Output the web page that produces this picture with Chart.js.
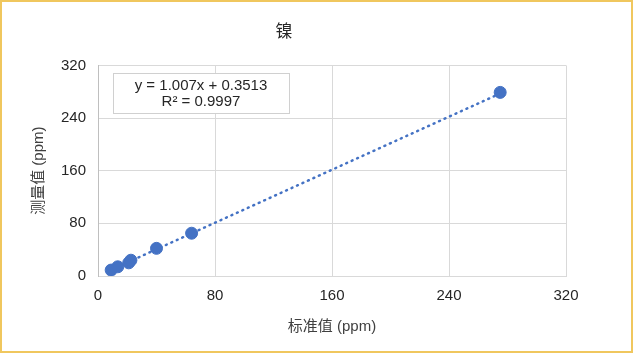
<!DOCTYPE html>
<html>
<head>
<meta charset="utf-8">
<script src="https://cdn.jsdelivr.net/npm/chart.js@4"></script>
<style>
  body { margin: 0; background: #fff; }
  #wrap { width: 633px; height: 353px; box-sizing: border-box; border: 2px solid #F0C75E; background: #fff; }
  canvas { display: block; }
</style>
</head>
<body>
<div id="wrap"><canvas id="chart" width="629" height="349"></canvas></div>
<script>
// 数据
const stdValues = [9, 13.5, 21, 22.5, 40, 64, 275];
const measuredValues = [9, 14, 20, 24, 42, 65, 279];
const trendX = [9, 275];
const trendY = [9.4, 277.3];
const tickValues = [0, 80, 160, 240, 320];
const eqLines = ['y = 1.007x + 0.3513', 'R² = 0.9997'];

const FONT = '"Liberation Sans", "Noto Sans CJK SC", sans-serif';
const BLUE = '#4472C4';

// 公式框
const eqBoxPlugin = {
  id: 'eqBox',
  afterDatasetsDraw(chart) {
    const ctx = chart.ctx;
    const x = 111, y = 71, w = 176, h = 40;
    ctx.save();
    ctx.fillStyle = '#fff';
    ctx.fillRect(x, y, w, h);
    ctx.strokeStyle = '#D0D0D0';
    ctx.lineWidth = 1;
    ctx.strokeRect(x + 0.5, y + 0.5, w, h);
    ctx.fillStyle = '#262626';
    ctx.font = '15px ' + FONT;
    ctx.textAlign = 'center';
    ctx.textBaseline = 'middle';
    ctx.fillText(eqLines[0], x + w / 2, y + 13);
    ctx.fillText(eqLines[1], x + w / 2, y + 29);
    ctx.restore();
  }
};

const ctx = document.getElementById('chart').getContext('2d');
new Chart(ctx, {
  type: 'scatter',
  data: {
    datasets: [
      {
        label: '测量值',
        data: stdValues.map((v, i) => ({ x: v, y: measuredValues[i] })),
        backgroundColor: BLUE,
        borderColor: BLUE,
        pointRadius: 6,
        order: 1
      },
      {
        label: '线性',
        type: 'line',
        data: trendX.map((v, i) => ({ x: v, y: trendY[i] })),
        borderColor: BLUE,
        borderWidth: 2.5,
        borderDash: [1, 5],
        borderCapStyle: 'round',
        pointRadius: 0,
        fill: false,
        order: 2
      }
    ]
  },
  options: {
    responsive: false,
    animation: false,
    layout: { padding: { left: 0, right: 65, top: 0, bottom: 0 } },
    plugins: {
      legend: { display: false },
      tooltip: { enabled: false },
      title: {
        display: true,
        text: '镍',
        color: '#262626',
        font: { family: FONT, size: 17, weight: 'normal' },
        padding: { top: 20, bottom: 23 }
      }
    },
    scales: {
      x: {
        type: 'linear',
        min: 0, max: 320,
        afterBuildTicks: s => { s.ticks = tickValues.map(v => ({ value: v })); },
        afterFit: s => { s.height = 75; },
        grid: { color: '#D9D9D9', drawTicks: false },
        border: { color: '#D9D9D9' },
        ticks: { color: '#262626', font: { family: FONT, size: 15 }, padding: 11, maxRotation: 0 },
        title: {
          display: true,
          text: '标准值 (ppm)',
          color: '#404040',
          font: { family: FONT, size: 15 },
          padding: { top: 0, bottom: 15 }
        }
      },
      y: {
        type: 'linear',
        min: 0, max: 320,
        afterBuildTicks: s => { s.ticks = tickValues.map(v => ({ value: v })); },
        afterFit: s => { s.width = 96; },
        grid: { color: '#D9D9D9', drawTicks: false },
        border: { color: '#BFBFBF' },
        ticks: { color: '#262626', font: { family: FONT, size: 15 }, padding: 12 },
        title: {
          display: true,
          text: '测量值 (ppm)',
          color: '#404040',
          font: { family: FONT, size: 15 },
          padding: { top: 28, bottom: 0 }
        }
      }
    }
  },
  plugins: [eqBoxPlugin]
});
</script>
</body>
</html>
